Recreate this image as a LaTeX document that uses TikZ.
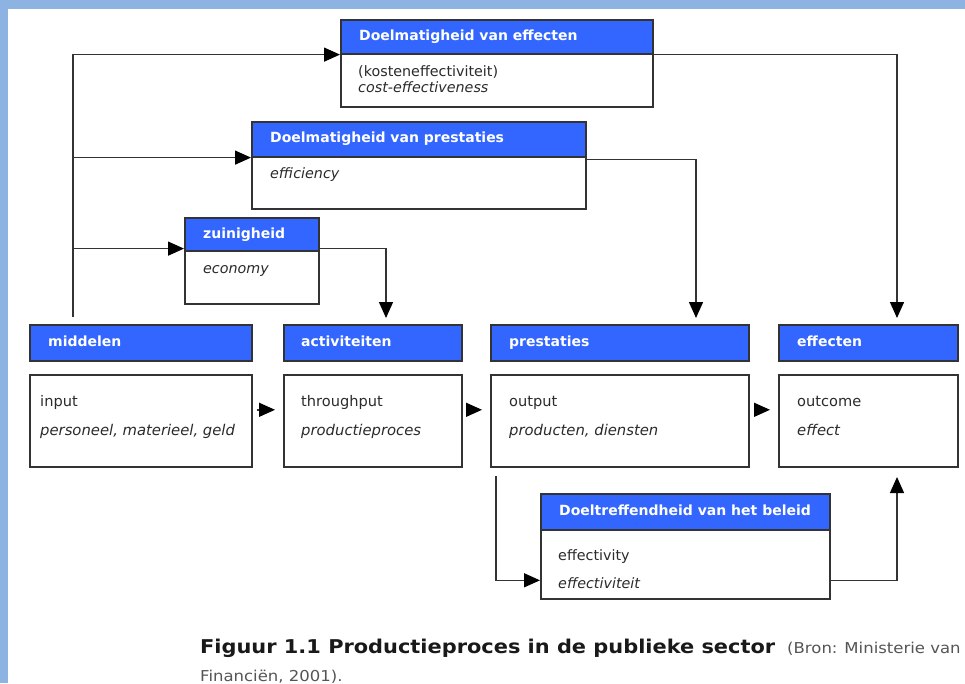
\documentclass[tikz,border=0pt]{standalone}
\usepackage{fontspec}
\setmainfont{DejaVu Sans}
\newfontfamily\capfont[FakeStretch=1.1]{DejaVu Sans}
\usetikzlibrary{arrows.meta,calc}
\definecolor{band}{HTML}{8DB3E2}
\definecolor{hblue}{HTML}{3366FF}
\definecolor{bord}{HTML}{333333}
\definecolor{txt}{HTML}{2B2B2B}
\definecolor{capgray}{HTML}{555555}
\tikzset{
  hdr/.style={draw=bord, fill=hblue, line width=1.6pt, anchor=north west, inner sep=0pt},
  bodybox/.style={draw=bord, fill=white, line width=1.6pt, anchor=north west, inner sep=0pt},
  htxt/.style={anchor=base west, inner sep=0pt, text=white, font=\fontsize{14}{16}\selectfont\bfseries},
  btxt/.style={anchor=base west, inner sep=0pt, text=txt, font=\fontsize{14.3}{16}\selectfont},
  itxt/.style={anchor=base west, inner sep=0pt, text=txt, font=\fontsize{14.3}{16}\selectfont\itshape},
  lbtxt/.style={btxt, font=\fontsize{14.6}{16}\selectfont},
  litxt/.style={itxt, font=\fontsize{14.8}{16}\selectfont\itshape},
  conn/.style={draw=bord, line width=1.4pt},
  arr/.style={conn, -{Triangle[length=16pt,width=14pt,color=black]}},
}
\begin{document}
\begin{tikzpicture}[x=1pt,y=-1pt]
\useasboundingbox (0,0) rectangle (965,683);
\fill[white] (0,0) rectangle (965,683);
\fill[band] (0,0) rectangle (965,8.5);
\fill[band] (0,0) rectangle (8,683);

% upper boxes
\node[bodybox, minimum width=312pt, minimum height=53pt] (Eb) at (340,53) {};
\node[hdr, minimum width=312pt, minimum height=34pt] (Eh) at (340,19) {};
\node[htxt] (Et) at (359,40) {Doelmatigheid van effecten};
\node[btxt] (Et1) at (358,76) {(kosteneffectiviteit)};
\node[itxt] (Et2) at (358,92) {cost-effectiveness};

\node[bodybox, minimum width=334pt, minimum height=52pt] (Pb) at (251,156) {};
\node[hdr, minimum width=334pt, minimum height=35pt] (Ph) at (251,121) {};
\node[htxt] (Pt) at (270,142) {Doelmatigheid van prestaties};
\node[itxt] (Pt1) at (270,178) {efficiency};

\node[bodybox, minimum width=134pt, minimum height=53pt] (Zb) at (184,250) {};
\node[hdr, minimum width=134pt, minimum height=33pt] (Zh) at (184,217) {};
\node[htxt] (Zt) at (203,238) {zuinigheid};
\node[itxt] (Zt1) at (203,273) {economy};

% bottom row
\node[hdr, minimum width=222pt, minimum height=36pt] (Mh) at (29,324) {};
\node[bodybox, minimum width=222pt, minimum height=92pt] (Mb) at (29,374) {};
\node[htxt] (Mt) at (48,346) {middelen};
\node[lbtxt] (Mt1) at (40,406) {input};
\node[litxt] (Mt2) at (40,435) {personeel, materieel, geld};

\node[hdr, minimum width=178pt, minimum height=36pt] (Ah) at (283,324) {};
\node[bodybox, minimum width=178pt, minimum height=92pt] (Ab) at (283,374) {};
\node[htxt] (At) at (301,346) {activiteiten};
\node[lbtxt] (At1) at (301,406) {throughput};
\node[litxt] (At2) at (301,435) {productieproces};

\node[hdr, minimum width=258pt, minimum height=36pt] (Rh) at (490,324) {};
\node[bodybox, minimum width=258pt, minimum height=92pt] (Rb) at (490,374) {};
\node[htxt] (Rt) at (509,346) {prestaties};
\node[lbtxt] (Rt1) at (509,406) {output};
\node[litxt] (Rt2) at (509,435) {producten, diensten};

\node[hdr, minimum width=179pt, minimum height=36pt] (Fh) at (778,324) {};
\node[bodybox, minimum width=179pt, minimum height=92pt] (Fb) at (778,374) {};
\node[htxt] (Ft) at (797,346) {effecten};
\node[lbtxt] (Ft1) at (797,406) {outcome};
\node[litxt] (Ft2) at (797,435) {effect};

% Doeltreffendheid
\node[bodybox, minimum width=289pt, minimum height=69pt] (Db) at (540,529) {};
\node[hdr, minimum width=289pt, minimum height=36pt] (Dh) at (540,493) {};
\node[htxt] (Dt) at (559,515) {Doeltreffendheid van het beleid};
\node[btxt] (Dt1) at (558,560) {effectivity};
\node[itxt] (Dt2) at (558,588) {effectiviteit};

% coordinates
\coordinate (mtop) at (73,317);
\coordinate (ain) at (386,318);
\coordinate (rin) at (696,318);
\coordinate (fin) at (897,318);
\coordinate (rout) at (496,476);
\coordinate (fbin) at (897,477);

% connectors
\draw[arr] (mtop) |- (Eh.south west);
\draw[arr] (mtop |- Ph.south west) -- (Ph.south west);
\draw[arr] ([yshift=3pt]mtop |- Zh.south west) -- ([yshift=3pt]Zh.south west);
\draw[arr] (Eh.south east) -| (fin);
\draw[arr] ([yshift=-2pt]Ph.south east) -| (rin);
\draw[arr] ([yshift=3pt]Zh.south east) -| (ain);

\draw[arr, shorten <=4pt, shorten >=8pt] ([yshift=11pt]Mb.east) -- ([yshift=11pt]Ab.west);
\draw[arr, shorten <=4pt, shorten >=8pt] ([yshift=11pt]Ab.east) -- ([yshift=11pt]Rb.west);
\draw[arr, shorten <=4pt, shorten >=8pt] ([yshift=11pt]Rb.east) -- ([yshift=11pt]Fb.west);

\draw[arr] (rout) |- ([yshift=-16pt]Db.west);
\draw[arr] ([yshift=-16pt]Db.east) -| (fbin);

% caption
\node[anchor=base west, inner sep=0pt, text=black!90, font=\capfont\fontsize{19}{22}\selectfont\bfseries] (cap) at (200,653) {Figuur 1.1 Productieproces in de publieke sector};
\node[anchor=base west, inner sep=0pt, text=capgray, font=\capfont\fontsize{15}{18}\selectfont] (bron) at (787,653) {(Bron: Ministerie van};
\node[anchor=base west, inner sep=0pt, text=capgray, font=\capfont\fontsize{15}{18}\selectfont] (fin2) at (200,681) {Financiën, 2001).};
\end{tikzpicture}
\end{document}
